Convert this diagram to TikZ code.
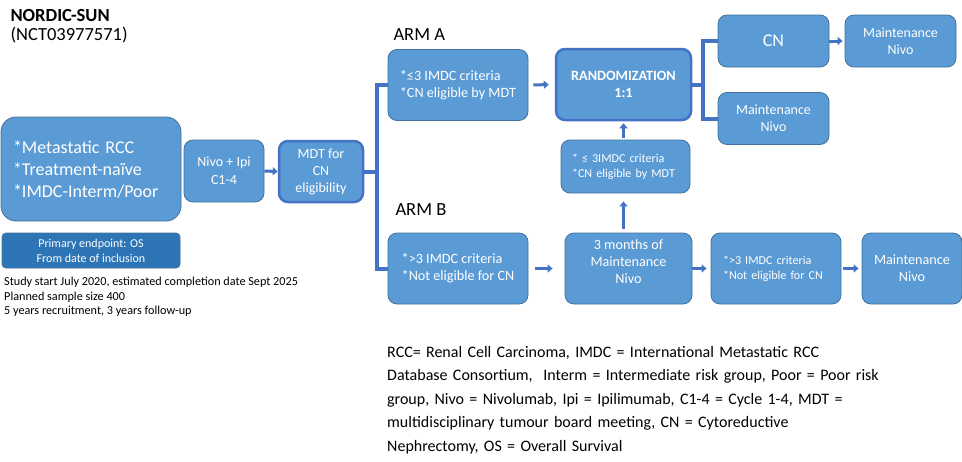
\documentclass[tikz,border=0pt]{standalone}
\usepackage{fontspec}
\setmainfont{Carlito}
\usetikzlibrary{arrows.meta}

\definecolor{boxfill}{HTML}{5B9BD5}
\definecolor{boxline}{HTML}{41719C}
\definecolor{darkfill}{HTML}{2E75B6}
\definecolor{linkblue}{HTML}{4472C4}

\tikzset{
  stepbox/.style={draw=boxline, fill=boxfill, rounded corners=9pt, text=white,
    align=center, inner sep=2pt, line width=0.8pt},
  keybox/.style={stepbox, draw=linkblue, line width=2.5pt},
  blockarrow/.style={draw=linkblue, line width=3pt,
    -{Triangle[length=5pt,width=8pt]}},
  bracket/.style={draw=linkblue, line width=4pt},
  armlabel/.style={anchor=west, font=\fontsize{18.5}{22}\selectfont}
}

\begin{document}
\begin{tikzpicture}[x=1pt,y=-1pt]

  \useasboundingbox (0,0) rectangle (962,461);

  % title
  \node[armlabel] (title) at (7,15) {\textbf{NORDIC-SUN}};
  \node[armlabel] (nct) at (7,35) {(NCT03977571)};

  % inclusion
  \node[stepbox, rounded corners=15pt, minimum height=104pt, text width=156pt,
        inner xsep=12pt, align=left, font=\fontsize{18}{22}\selectfont]
        (patients) at (91,169)
        {*Metastatic RCC\\{}*Treatment-naïve\\{}*IMDC-Interm/Poor};
  \node[stepbox, fill=darkfill, rounded corners=4pt, minimum width=178pt,
        minimum height=35pt, font=\fontsize{12}{15}\selectfont] (endpoint) at (91,250.5)
        {Primary endpoint: OS\\From date of inclusion};
  \node[anchor=north west, align=left, inner sep=0pt,
        font=\fontsize{12.2}{14.5}\selectfont] (study) at (4,277)
        {Study start July 2020, estimated completion date Sept 2025\\
         Planned sample size 400\\
         5 years recruitment, 3 years follow-up};

  \node[stepbox, minimum width=80pt, minimum height=62pt,
        font=\fontsize{14}{18}\selectfont] (nivoipi) at (224,171)
        {Nivo + Ipi\\C1-4};
  \node[keybox, minimum width=84pt, minimum height=61pt,
        font=\fontsize{14}{17}\selectfont] (mdt) at (321,171.5)
        {MDT for\\CN\\eligibility};

  % arm A
  \node[armlabel] (armAlabel) at (390,35) {ARM A};
  \node[stepbox, minimum width=140pt, minimum height=71pt,
        align=left, font=\fontsize{14.2}{17}\selectfont] (armA) at (458,85)
        {*≤3 IMDC criteria\\{}*CN eligible by MDT};
  \node[keybox, minimum width=135pt, minimum height=71pt,
        font=\fontsize{14.2}{17}\selectfont\bfseries] (rand) at (623.5,84.5)
        {RANDOMIZATION\\1:1};
  \node[stepbox, minimum height=53pt, text width=107pt, inner xsep=11pt,
        align=left, font=\fontsize{12.1}{15}\selectfont] (recheck) at (625.5,166.5)
        {* ≤ 3IMDC criteria\\{}*CN eligible by MDT};
  \node[stepbox, minimum width=111pt, minimum height=52pt,
        font=\fontsize{18}{20}\selectfont] (cn) at (773.5,41) {CN};
  \node[stepbox, minimum width=111pt, minimum height=52pt,
        font=\fontsize{14}{17}\selectfont] (maintA) at (900.5,41)
        {Maintenance\\Nivo};
  \node[stepbox, minimum width=111pt, minimum height=52pt,
        font=\fontsize{14}{17}\selectfont] (maintR) at (773.5,118.5)
        {Maintenance\\Nivo};

  % arm B
  \node[armlabel] (armBlabel) at (392,210) {ARM B};
  \node[stepbox, minimum width=140pt, minimum height=71pt,
        align=left, font=\fontsize{14.2}{17}\selectfont] (armB) at (458,268.5)
        {*>3 IMDC criteria\\{}*Not eligible for CN};
  \node[stepbox, minimum width=127pt, minimum height=71pt] (threemo) at (628.5,268.5) {};
  \node[text=white, align=center, font=\fontsize{14.2}{17}\selectfont]
        (threemotext) at ([yshift=7pt]threemo.center)
        {3 months of\\Maintenance\\Nivo};
  \node[stepbox, minimum height=71pt, text width=106pt, inner xsep=12pt,
        align=left, font=\fontsize{12.1}{15}\selectfont] (noncn) at (776,268.5)
        {*>3 IMDC criteria\\{}*Not eligible for CN};
  \node[stepbox, minimum width=100pt, minimum height=71pt,
        font=\fontsize{14.2}{17}\selectfont] (maintB) at (912,268.5)
        {Maintenance\\Nivo};

  % abbreviations
  \node[anchor=north west, align=left, inner sep=0pt, text width=570pt,
        font=\fontsize{16}{23.5}\selectfont] (legend) at (387,346)
        {RCC= Renal Cell Carcinoma, IMDC = International Metastatic RCC\\
         Database Consortium,\ \ Interm = Intermediate risk group, Poor = Poor risk\\
         group, Nivo = Nivolumab, Ipi = Ipilimumab, C1-4 = Cycle 1-4, MDT =\\
         multidisciplinary tumour board meeting, CN = Cytoreductive\\
         Nephrectomy, OS = Overall Survival};

  % connectors
  \draw[blockarrow] (nivoipi.east) -- (mdt.west);
  \draw[bracket] (mdt.east) -- ++(13,0) coordinate (forkL);
  \draw[bracket] (armA.west) -| (forkL) |- (armB.west);
  \draw[blockarrow, shorten <=5pt, shorten >=6pt] (armA.east) -- (rand.west);
  \draw[blockarrow, shorten <=2pt, shorten >=2pt]
    (recheck.north -| rand.south) -- (rand.south);
  \draw[blockarrow, shorten <=4pt, shorten >=8pt]
    (threemo.north -| rand.south) -- (recheck.south -| rand.south);
  \draw[blockarrow, shorten <=7pt, shorten >=12pt] (armB.east) -- (threemo.west);
  \draw[blockarrow, shorten >=4pt] (threemo.east) -- (noncn.west);
  \draw[blockarrow, shorten <=2pt, shorten >=3pt] (noncn.east) -- (maintB.west);
  \draw[blockarrow, shorten >=2pt] (cn.east) -- (maintA.west);
  \draw[bracket] (rand.east) -- ++(11,0) coordinate (forkR);
  \draw[bracket] (cn.west) -| (forkR) |- (maintR.west);

\end{tikzpicture}
\end{document}
